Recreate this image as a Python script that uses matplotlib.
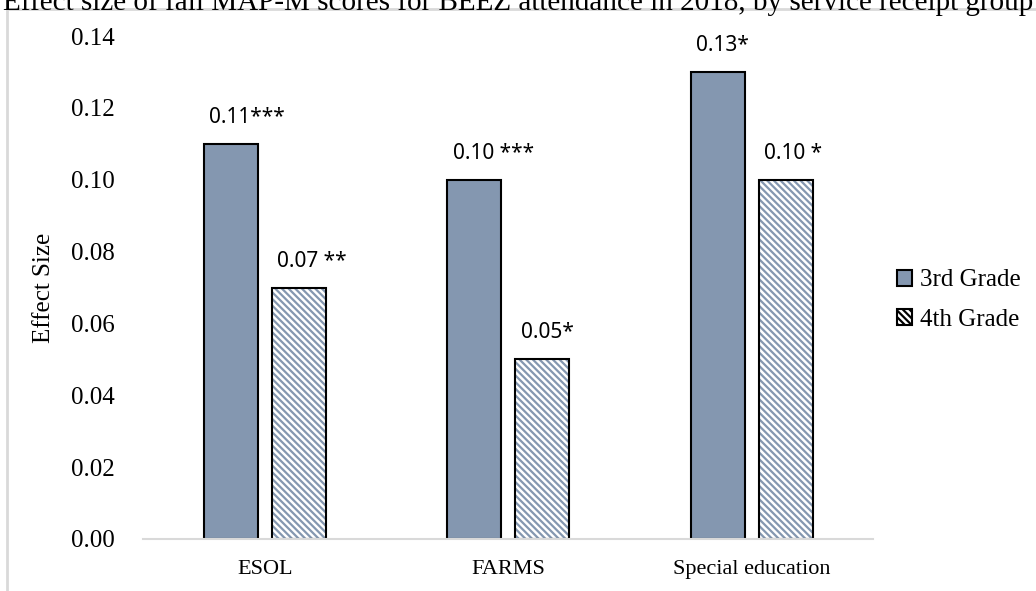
import matplotlib.pyplot as plt
import matplotlib.patches as mpatches
import numpy as np

plt.rcParams['hatch.linewidth'] = 1.6

# effect sizes by service receipt group
groups = ['ESOL', 'FARMS', 'Special education']
grade3 = [0.11, 0.10, 0.13]
grade4 = [0.07, 0.05, 0.10]
stars3 = ['***', ' ***', '*']
stars4 = [' **', '*', ' *']
yticks = [0.00, 0.02, 0.04, 0.06, 0.08, 0.10, 0.12, 0.14]

blue = '#8497b0'
serif = 'Liberation Serif'

fig = plt.figure(figsize=(10.36, 5.91), dpi=100)
ax = fig.add_axes([0.138, 0.088, 0.705, 0.851])

x = np.arange(len(groups))
w = 0.222
off = 0.14

ax.bar(x - off, grade3, w, color=blue, edgecolor='black', linewidth=1.5, label='3rd Grade')
# hatch in blue-grey, outline drawn on top in black
ax.bar(x + off, grade4, w, color='white', edgecolor=blue, hatch='\\\\\\\\\\', linewidth=0)
ax.bar(x + off, grade4, w, fill=False, edgecolor='black', linewidth=1.5)

for xs, vals, st in [(x - off, grade3, stars3), (x + off, grade4, stars4)]:
    for xi, v, s in zip(xs, vals, st):
        ax.annotate('%.2f%s' % (v, s), xy=(xi - w / 2, v), xytext=(4, 19),
                    textcoords='offset points', ha='left', va='center',
                    fontsize=15, family='Noto Sans')

ax.set_xlim(-0.5, 2.5)
ax.set_ylim(0, 0.14)
ax.set_yticks(yticks)
ax.set_yticklabels(['%.2f' % t for t in yticks], family=serif, fontsize=18)
ax.set_xticks(x)
ax.set_xticklabels(groups, family=serif, fontsize=16)
ax.tick_params(axis='both', length=0)
ax.tick_params(axis='y', pad=20)
ax.tick_params(axis='x', pad=15)
for sp in ['left', 'right', 'top']:
    ax.spines[sp].set_visible(False)
ax.spines['bottom'].set_color('#d9d9d9')
ax.spines['bottom'].set_linewidth(1.5)
ax.set_ylabel('Effect Size', family=serif, fontsize=18, labelpad=12)

h3 = mpatches.Patch(facecolor=blue, edgecolor='black', linewidth=1.5)
h4 = mpatches.Patch(facecolor='white', edgecolor='black', hatch='\\\\\\\\\\', linewidth=1.5)
fig.legend([h3, h4], ['3rd Grade', '4th Grade'], loc='center left',
           bbox_to_anchor=(0.866, 0.492), frameon=False, borderaxespad=0,
           borderpad=0, handlelength=0.6, handleheight=0.6, handletextpad=0.3,
           labelspacing=0.7, prop={'family': serif, 'size': 18})

# chart frame
fig.patches.append(mpatches.Rectangle((7 / 1036, -0.05), 1.1, (591 - 9) / 591 + 0.05,
                                      transform=fig.transFigure, fill=False,
                                      edgecolor='#d9d9d9', linewidth=2))

fig.text(3 / 1036, 1.0 - 3 / 591,
         'Effect size of fall MAP-M scores for BEEZ attendance in 2018, by service receipt group',
         ha='left', va='center', family=serif, fontsize=21)

fig.savefig('out.png', dpi=100)
